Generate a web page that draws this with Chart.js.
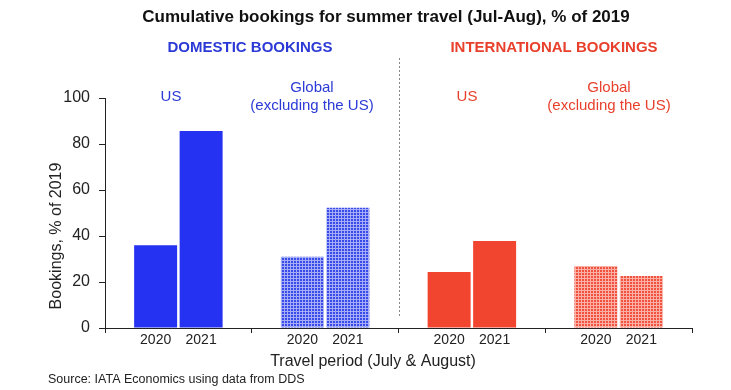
<!DOCTYPE html>
<html><head><meta charset="utf-8">
<script src="https://cdn.jsdelivr.net/npm/chart.js@4.4.0/dist/chart.umd.min.js"></script>
<style>html,body{margin:0;padding:0;background:#fff}#wrap{width:731px;height:390px}</style>
</head><body><div id="wrap"><canvas id="c" width="731" height="390"></canvas></div>
<script>
const categories = ['Domestic US', 'Domestic Global (excl. US)', 'International US', 'International Global (excl. US)'];
const seriesNames = ['2020', '2021'];
const values2020 = [36, 31, 24.3, 27];
const values2021 = [85.6, 52.3, 37.8, 22.6];
const yTicks = [0, 20, 40, 60, 80, 100];

const FONT = "'Liberation Sans', Arial, sans-serif";
const BLUE = '#2532f2', RED = '#f2452f';

function pattern(dark, light){
  const c = document.createElement('canvas'); c.width = 3; c.height = 3;
  const g = c.getContext('2d');
  g.fillStyle = light; g.fillRect(0,0,3,3);
  g.fillStyle = dark; g.fillRect(0,0,2,2);
  return document.getElementById('c').getContext('2d').createPattern(c, 'repeat');
}
const bluePat = pattern('#3a4ae8', '#a4adf6');
const redPat = pattern('#f0523f', '#fab0a4');
const colors = [BLUE, bluePat, RED, redPat];

const overlay = {
  id: 'overlay',
  afterDatasetsDraw(chart){
    const ctx = chart.ctx, x = chart.scales.x, a = chart.chartArea;
    ctx.save();
    ctx.font = '14px ' + FONT; ctx.fillStyle = '#222'; ctx.textAlign = 'center'; ctx.textBaseline = 'middle';
    chart.data.datasets.forEach((ds, di) => {
      chart.getDatasetMeta(di).data.forEach(el => ctx.fillText(seriesNames[di], el.x, a.bottom + 12));
    });
    const sx = Math.round((x.getPixelForValue(1) + x.getPixelForValue(2)) / 2) + 0.5;
    ctx.strokeStyle = '#888'; ctx.lineWidth = 1; ctx.setLineDash([2, 2]);
    ctx.beginPath(); ctx.moveTo(sx, 58); ctx.lineTo(sx, 318); ctx.stroke(); ctx.setLineDash([]);
    ctx.fillStyle = '#111'; ctx.font = 'bold 17px ' + FONT;
    ctx.fillText('Cumulative bookings for summer travel (Jul-Aug), % of 2019', 386, 17);
    ctx.font = 'bold 15px ' + FONT;
    ctx.fillStyle = '#2b3ad6'; ctx.fillText('DOMESTIC BOOKINGS', 250, 48);
    ctx.fillStyle = '#e8402c'; ctx.fillText('INTERNATIONAL BOOKINGS', 554, 48);
    ctx.font = '15px ' + FONT;
    ctx.fillStyle = '#2b3ad6';
    ctx.fillText('US', 171, 97);
    ctx.fillText('Global', 312, 88); ctx.fillText('(excluding the US)', 312, 106);
    ctx.fillStyle = '#e8402c';
    ctx.fillText('US', 467, 97);
    ctx.fillText('Global', 609, 88); ctx.fillText('(excluding the US)', 609, 106);
    ctx.fillStyle = '#222'; ctx.font = '16px ' + FONT;
    ctx.fillText('Travel period (July & August)', 373, 362);
    ctx.save(); ctx.translate(57, 236); ctx.rotate(-Math.PI/2);
    ctx.fillText('Bookings, % of 2019', 0, 0); ctx.restore();
    ctx.textAlign = 'left'; ctx.font = '12.5px ' + FONT;
    ctx.fillText('Source: IATA Economics using data from DDS', 48, 380);
    ctx.restore();
  }
};

new Chart(document.getElementById('c'), {
  type: 'bar',
  data: {
    labels: categories,
    datasets: [
      { label: seriesNames[0], data: values2020, backgroundColor: colors },
      { label: seriesNames[1], data: values2021, backgroundColor: colors }
    ]
  },
  options: {
    responsive: false, animation: false,
    devicePixelRatio: 1,
    layout: { padding: { left: 0, right: 39, top: 98, bottom: 0 } },
    categoryPercentage: 0.62, barPercentage: 0.945,
    plugins: { legend: { display: false }, tooltip: { enabled: false } },
    scales: {
      x: {
        offset: true,
        grid: { display: true, drawOnChartArea: false, offset: true, tickLength: 5, color: '#222' },
        border: { display: true, color: '#222', width: 1 },
        ticks: { callback: () => '', display: true },
        afterFit(s){ s.height = 62; }
      },
      y: {
        min: 0, max: 100,
        afterBuildTicks(s){ s.ticks = yTicks.map(v => ({ value: v })); },
        grid: { drawOnChartArea: false, tickLength: 6, color: '#222' },
        border: { display: true, color: '#222', width: 1 },
        ticks: { font: { size: 16, family: FONT }, color: '#222', padding: 9 },
        afterFit(s){ s.width = 105; }
      }
    }
  },
  plugins: [overlay]
});
</script></body></html>
